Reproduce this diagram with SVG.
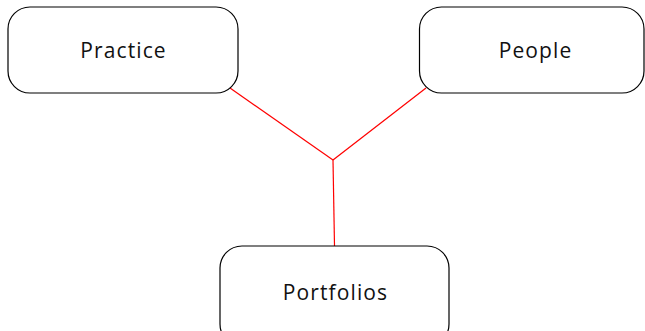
<svg xmlns="http://www.w3.org/2000/svg" width="645" height="331" viewBox="0 0 645 331">
<style>
.box{fill:#fff;stroke:#000;stroke-width:1.2}
.lbl{font-family:"Open Sans","Noto Sans",sans-serif;font-size:21px;letter-spacing:1.1px;fill:#111;text-anchor:middle}
.con{stroke:#ff0000;stroke-width:1.2;fill:none}
</style>
<rect width="645" height="331" fill="#fff"/>
<g id="connectors">
<line class="con" x1="230" y1="88" x2="333" y2="160"/>
<line class="con" x1="426" y1="88" x2="333" y2="160"/>
<line class="con" x1="333" y1="160" x2="334.5" y2="246"/>
</g>
<g id="practice">
<rect class="box" x="8" y="7" width="230" height="86" rx="22" ry="22"/>
<text class="lbl" x="123.5" y="58">Practice</text>
</g>
<g id="people">
<rect class="box" x="419.5" y="7" width="224.5" height="86" rx="22" ry="22"/>
<text class="lbl" x="535.5" y="58">People</text>
</g>
<g id="portfolios">
<rect class="box" x="220" y="246" width="229" height="100" rx="22" ry="22"/>
<text class="lbl" x="335.5" y="300">Portfolios</text>
</g>
</svg>
